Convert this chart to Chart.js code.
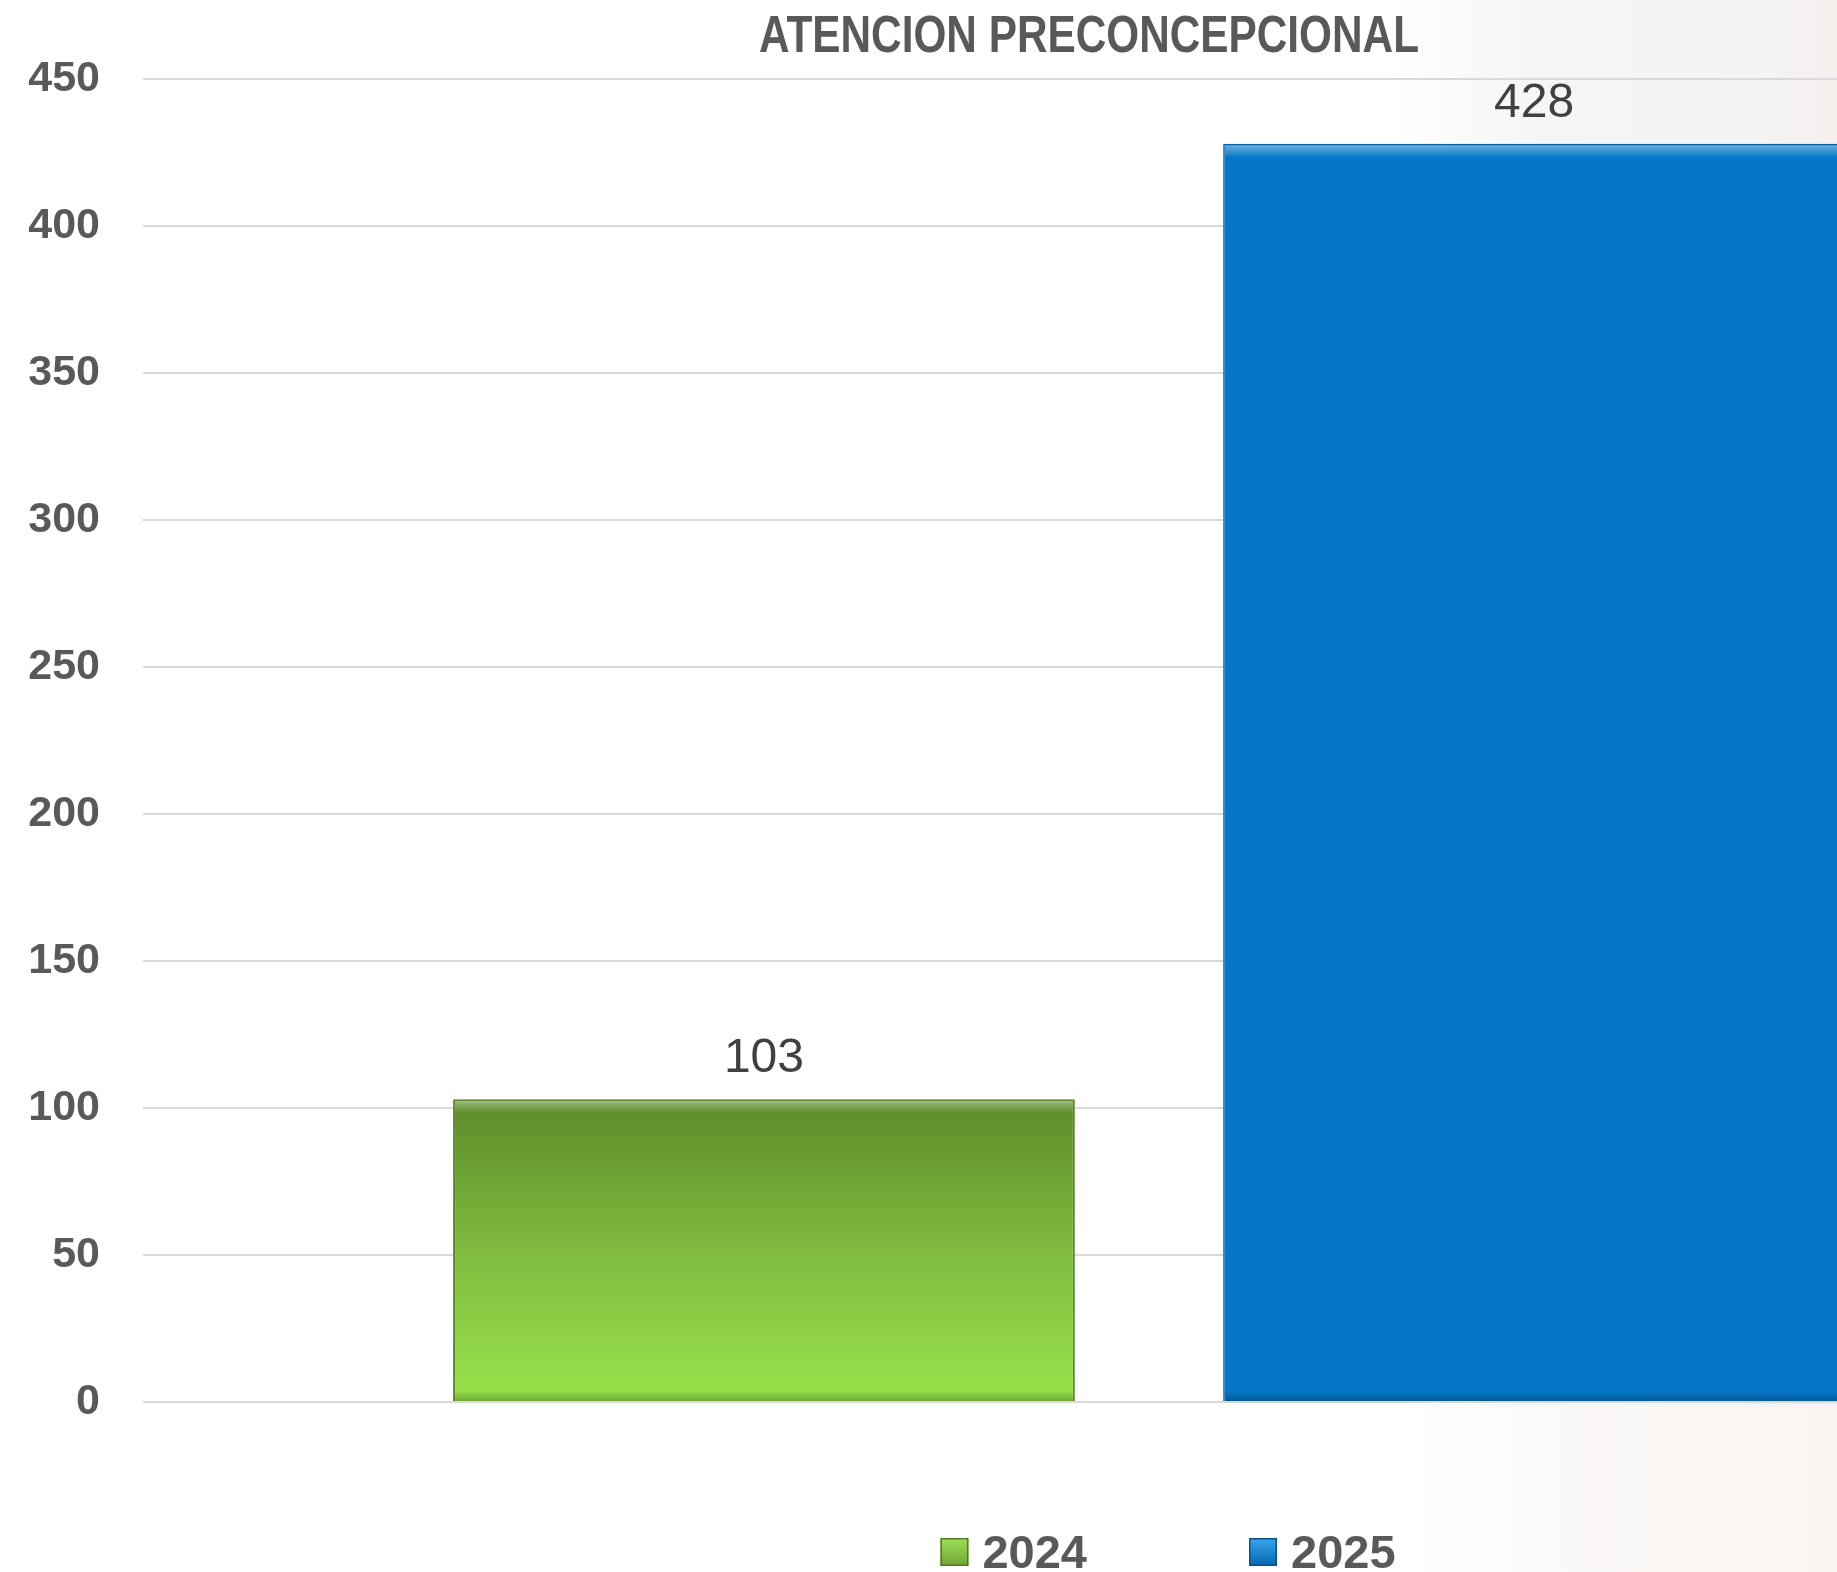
<!DOCTYPE html>
<html>
<head>
<meta charset="utf-8">
<title>Atencion Preconcepcional</title>
<script src="https://cdn.jsdelivr.net/npm/chart.js@4.4.1/dist/chart.umd.min.js"></script>
<style>
  html, body {
    margin: 0;
    padding: 0;
    width: 1837px;
    height: 1572px;
    overflow: hidden;
  }
  body {
    background:
      linear-gradient(90deg, #ffffff 1410px, #fbf9f7 1580px, #f9f5f2 1837px) 0 1405px / 100% 167px no-repeat,
      linear-gradient(90deg, #ffffff 1390px, #f4f5f6 1540px, #f3f4f5 1760px, #f6efec 1837px) 0 0 / 100% 1405px no-repeat;
  }
  canvas { display: block; }
</style>
</head>
<body>
<canvas id="chart" width="2178" height="1572"></canvas>
<script>
// chart data
const chartTitle = "ATENCION PRECONCEPCIONAL";
const categories = [""];
const seriesNames = ["2024", "2025"];
const values2024 = [103];
const values2025 = [428];
const yTickMin = 0;
const yTickMax = 450;
const yTickStep = 50;

const GREEN_TOP = "#5b8a28";
const GREEN_MID = "#80bb40";
const GREEN_BOTTOM = "#98e24a";
const BLUE = "#0577ca";
const TEXT_GREY = "#595959";

// vertical gradient for the green bar, from its top to the zero line
const greenFill = function (ctx) {
  const chart = ctx.chart;
  if (ctx.type !== "data" || !chart.chartArea) {
    return GREEN_MID;
  }
  const y = chart.scales.y;
  const top = y.getPixelForValue(ctx.raw);
  const base = y.getPixelForValue(0);
  const g = chart.ctx.createLinearGradient(0, top, 0, base);
  g.addColorStop(0, GREEN_TOP);
  g.addColorStop(0.5, GREEN_MID);
  g.addColorStop(1, GREEN_BOTTOM);
  return g;
};

// light top band + dark bottom band, like the Office bevel
const bevelPlugin = {
  id: "bevel",
  afterDatasetsDraw(chart) {
    const c = chart.ctx;
    chart.data.datasets.forEach((ds, i) => {
      chart.getDatasetMeta(i).data.forEach((bar) => {
        const left = bar.x - bar.width / 2;
        const top = bar.y;
        const h = bar.base - bar.y;
        c.save();
        let g = c.createLinearGradient(0, top, 0, top + 14);
        g.addColorStop(0, "rgba(255,255,255,0.45)");
        g.addColorStop(1, "rgba(255,255,255,0)");
        c.fillStyle = g;
        c.fillRect(left + 2, top + 2, bar.width - 4, 14);
        g = c.createLinearGradient(0, top + h - 10, 0, top + h);
        g.addColorStop(0, "rgba(0,0,0,0)");
        g.addColorStop(1, "rgba(0,0,0,0.25)");
        c.fillStyle = g;
        c.fillRect(left + 2, top + h - 10, bar.width - 4, 10);
        c.restore();
      });
    });
  },
};

// value above each bar
const valueLabels = {
  id: "valueLabels",
  afterDatasetsDraw(chart) {
    const c = chart.ctx;
    c.save();
    c.font = "48px 'Liberation Sans', Arial, sans-serif";
    c.fillStyle = "#404040";
    c.textAlign = "center";
    c.textBaseline = "alphabetic";
    chart.data.datasets.forEach((ds, i) => {
      chart.getDatasetMeta(i).data.forEach((bar, j) => {
        c.fillText(String(ds.data[j]), bar.x, bar.y - 27);
      });
    });
    c.restore();
  },
};

// title and legend drawn by hand so they sit where the original has them
const titleAndLegend = {
  id: "titleAndLegend",
  afterDraw(chart) {
    const c = chart.ctx;
    const area = chart.chartArea;
    c.save();
    c.fillStyle = TEXT_GREY;
    c.textBaseline = "alphabetic";

    // no narrow face installed, so squeeze the regular bold one
    c.save();
    c.font = "bold 51px 'Liberation Sans', Arial, sans-serif";
    c.textAlign = "center";
    c.translate(chart.width / 2, 52);
    c.scale(0.83, 1);
    c.fillText(chartTitle, 0, 0);
    c.restore();

    c.font = "bold 47px 'Liberation Sans', Arial, sans-serif";
    c.textAlign = "left";
    const box = 28, gap = 14, itemGap = 162;
    const widths = chart.data.datasets.map((ds) => c.measureText(ds.label).width);
    let total = 0;
    widths.forEach((w, i) => {
      total += box + gap + w + (i > 0 ? itemGap : 0);
    });
    let x = (area.left + area.right) / 2 + 19 - total / 2;
    const boxTop = 1538;
    chart.data.datasets.forEach((ds, i) => {
      const col = ds.legendColor;
      const g = c.createLinearGradient(0, boxTop, 0, boxTop + box);
      g.addColorStop(0, col[0]);
      g.addColorStop(1, col[1]);
      c.fillStyle = g;
      c.fillRect(x, boxTop, box, box);
      c.strokeStyle = col[2];
      c.lineWidth = 1.5;
      c.strokeRect(x + 0.75, boxTop + 0.75, box - 1.5, box - 1.5);
      c.fillStyle = TEXT_GREY;
      c.fillText(ds.label, x + box + gap, 1568);
      x += box + gap + widths[i] + itemGap;
    });
    c.restore();
  },
};

const ctx = document.getElementById("chart").getContext("2d");

new Chart(ctx, {
  type: "bar",
  data: {
    labels: categories,
    datasets: [
      {
        label: seriesNames[0],
        data: values2024,
        backgroundColor: greenFill,
        borderColor: "#5a8629",
        borderWidth: 2,
        legendColor: ["#9ee055", "#6fa334", "#4f7a23"],
        categoryPercentage: 0.7655,
        barPercentage: 0.8074,
      },
      {
        label: seriesNames[1],
        data: values2025,
        backgroundColor: BLUE,
        borderColor: "#0a5f9f",
        borderWidth: 1.5,
        legendColor: ["#3ba6ef", "#0466b0", "#0a4f86"],
        categoryPercentage: 0.7655,
        barPercentage: 0.8074,
      },
    ],
  },
  options: {
    responsive: false,
    animation: false,
    layout: {
      padding: { top: 79, right: 23, bottom: 170, left: 0 },
    },
    plugins: {
      legend: { display: false },
      title: { display: false },
      tooltip: { enabled: false },
    },
    scales: {
      x: {
        display: false,
      },
      y: {
        min: yTickMin,
        max: yTickMax,
        ticks: {
          stepSize: yTickStep,
          padding: 43,
          color: TEXT_GREY,
          font: { family: "'Liberation Sans', Arial, sans-serif", size: 43, weight: "bold" },
        },
        grid: {
          color: "#d9d9d9",
          lineWidth: 2,
          drawTicks: false,
        },
        border: { display: false },
        afterFit: function (scale) {
          scale.width = 143;
        },
      },
    },
  },
  plugins: [bevelPlugin, valueLabels, titleAndLegend],
});
</script>
</body>
</html>
